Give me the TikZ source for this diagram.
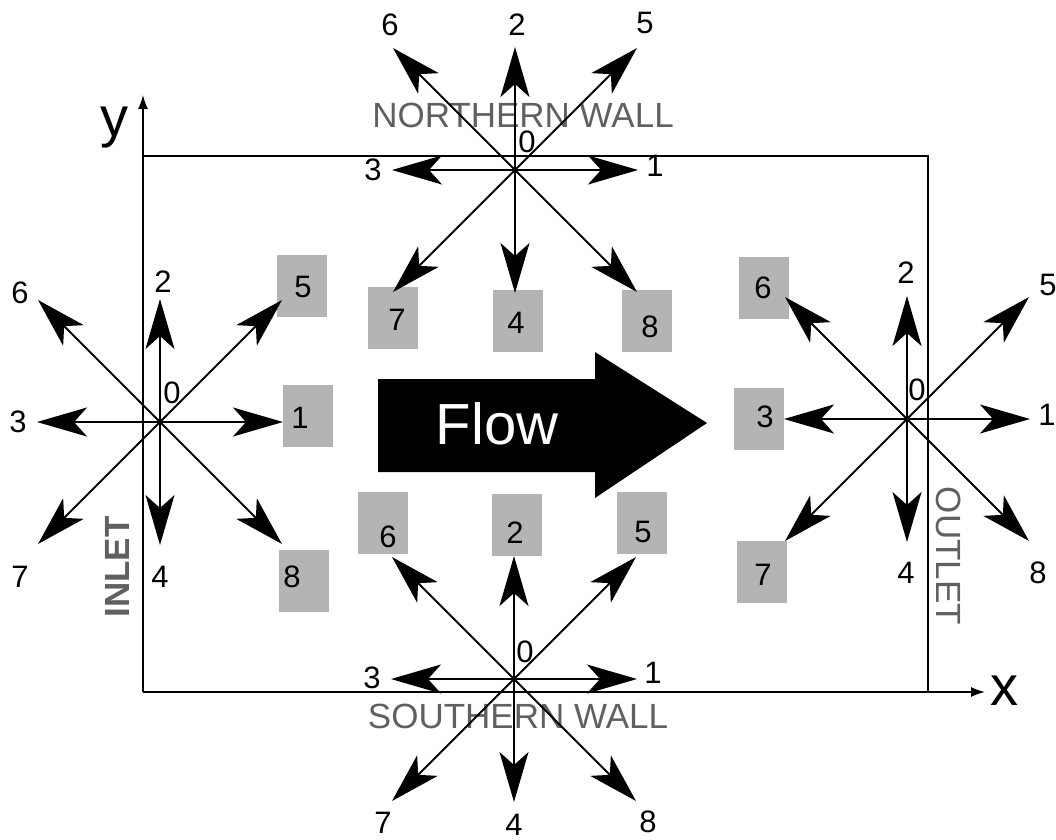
\documentclass[tikz,border=0pt]{standalone}
\usepackage{fontspec}
\setmainfont{Liberation Sans}
\usetikzlibrary{arrows.meta}
\definecolor{boxgray}{HTML}{B4B4B4}
\definecolor{wallgray}{HTML}{606060}
\tikzset{
  vec/.style={line width=1.9pt,-{Stealth[length=50pt,width=29pt,inset=13pt]}},
  num/.style={inner sep=0pt,font=\fontsize{31}{31}\selectfont},
  gbox/.style={fill=boxgray,draw=none,minimum width=50pt,minimum height=62pt,inner sep=0pt},
  wall/.style={inner sep=0pt,text=wallgray,font=\fontsize{35}{35}\selectfont},
  ax/.style={line width=1.8pt},
  axarrow/.style={line width=1.5pt,-{Latex[length=14pt,width=10pt]}},
  axlab/.style={inner sep=0pt,font=\fontsize{56}{56}\selectfont},
}
\begin{document}
\begin{tikzpicture}[x=1pt,y=-1pt]
\useasboundingbox (0,0) rectangle (1056,839);
% domain and axes
\coordinate (O) at (143,692);
\coordinate (Ytip) at (143,95);
\coordinate (Xtip) at (985,692);
\coordinate (TL) at (143,156);
\coordinate (BR) at (928,692);
\draw[ax] (TL) -- (TL -| BR) -- (BR);
\draw[axarrow] (O) -- (Ytip);
\draw[axarrow] (O) -- (Xtip);
\node[axlab] (ylab) at (114,128) {y};
\node[axlab] (xlab) at (1004,691) {x};
% wall labels
\node[wall] (nwall) at (523,115) {NORTHERN WALL};
\node[wall] (swall) at (518,716) {SOUTHERN WALL};
\node[wall,rotate=90,font=\bfseries\fontsize{35}{35}\selectfont] (inlet) at (117,567) {INLET};
\node[wall,rotate=-90] (outlet) at (949,556) {OUTLET};
% flow arrow
\fill (378,379) -- (595,379) -- (595,352) -- (707,423) -- (595,498) -- (595,472) -- (378,472) -- cycle;
\node[inner sep=0pt,text=white,font=\fontsize{58}{58}\selectfont] (flow) at (497,424) {Flow};
% gray boxes
\node[gbox] (w5) at (302,286) {};
\node[gbox] (w1) at (308,416) {};
\node[gbox] (w8) at (304,581) {};
\node[gbox] (n7) at (393,318) {};
\node[gbox] (n4) at (518,321) {};
\node[gbox] (n8) at (647,321) {};
\node[gbox] (e6) at (764,288) {};
\node[gbox] (e3) at (759,419) {};
\node[gbox] (e7) at (762,572) {};
\node[gbox] (s6) at (383,523) {};
\node[gbox] (s2) at (517,525) {};
\node[gbox] (s5) at (642,523) {};
\node[num] at (303,287) {5};
\node[num] at (300,418) {1};
\node[num] at (292,577) {8};
\node[num] at (397,320) {7};
\node[num] at (516,323) {4};
\node[num] at (650,327) {8};
\node[num] at (763,288) {6};
\node[num] at (765,417) {3};
\node[num] at (763,575) {7};
\node[num] at (388,537) {6};
\node[num] at (515,533) {2};
\node[num] at (643,532) {5};
% star centres
\coordinate (N) at (515,170);
\coordinate (W) at (160,422);
\coordinate (E) at (907,419);
\coordinate (S) at (514,679);
\foreach \c in {N,W,E,S}{
  \foreach \dx/\dy in {123/0,-123/0,0/-123,0/123,122/-122,-122/-122,-122/122,122/122}{
    \draw[vec] (\c) -- ++(\dx,\dy);
  }
}
% north labels
\node[num] at (390,25) {6};
\node[num] at (517,25) {2};
\node[num] at (645,23) {5};
\node[num] at (373,170) {3};
\node[num] at (655,166) {1};
\node[num] at (527,142) {0};
% west labels
\node[num] at (163,282) {2};
\node[num] at (20,293) {6};
\node[num] at (18,422) {3};
\node[num] at (20,577) {7};
\node[num] at (160,577) {4};
\node[num] at (172,393) {0};
% east labels
\node[num] at (906,273) {2};
\node[num] at (1048,285) {5};
\node[num] at (1047,415) {1};
\node[num] at (1038,573) {8};
\node[num] at (906,573) {4};
\node[num] at (917,390) {0};
% south labels
\node[num] at (372,678) {3};
\node[num] at (653,673) {1};
\node[num] at (525,652) {0};
\node[num] at (383,823) {7};
\node[num] at (514,825) {4};
\node[num] at (648,822) {8};
\end{tikzpicture}
\end{document}
